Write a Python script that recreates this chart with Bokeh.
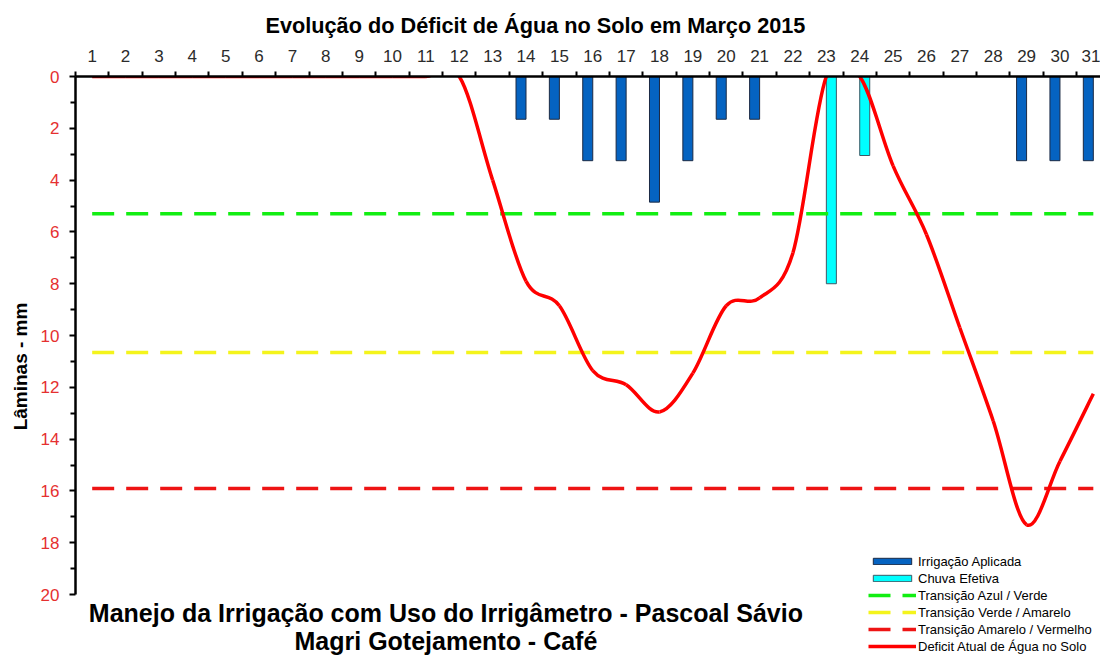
from bokeh.plotting import figure
from bokeh.models import Range1d, FixedTicker, Label, Legend, LegendItem, ColumnDataSource
from bokeh.embed import file_html
from bokeh.resources import INLINE

# ---------------- data ----------------
days = list(range(1, 32))
day_labels = [str(d) for d in days]
deficit = [0, 0, 0, 0, 0, 0, 0, 0, 0, 0, 0,
           0, 4.0, 7.9, 8.85, 11.35, 11.9, 12.95, 11.45, 8.85, 8.55, 6.8,
           0, 0, 3.45, 6.1, 9.7, 13.3, 17.3, 14.85, 12.25]
irr_days = [14, 15, 16, 17, 18, 19, 20, 21, 29, 30, 31]
irr_vals = [1.65, 1.65, 3.25, 3.25, 4.85, 3.25, 1.65, 1.65, 3.25, 3.25, 3.25]
rain_days = [23, 24]
rain_vals = [8.0, 3.05]
thr_blue_green = 5.3
thr_green_yellow = 10.65
thr_yellow_red = 15.9
y_ticks = list(range(0, 21, 2))

FONT = "Liberation Sans"

# frame: left 75px, top 76px, extends to the bottom/right edge of the canvas
p = figure(width=1100, height=656, output_backend="svg", toolbar_location=None,
           x_range=Range1d(0.5, 31.215), y_range=Range1d(22.39, 0),
           x_axis_location="above", y_axis_location="left",
           min_border_left=75, min_border_right=0, min_border_top=76, min_border_bottom=0,
           outline_line_color=None, background_fill_color="white", border_fill_color="white")
p.grid.visible = False

# ---- title ----
p.title.text = "Evolução do Déficit de Água no Solo em Março 2015"
p.title.align = "left"
p.title.offset = 190
p.title.text_font = FONT
p.title.text_font_style = "bold"
p.title.text_font_size = "21.7px"
p.title.text_color = "black"
p.title.standoff = 17

# ---- axes ----
xa = p.xaxis[0]
xa.ticker = FixedTicker(ticks=days, minor_ticks=[d - 0.5 for d in days])
xa.major_label_overrides = {d: s for d, s in zip(days, day_labels)}
xa.major_tick_line_color = None
xa.major_tick_out = 0
xa.major_tick_in = 0
xa.minor_tick_out = 5
xa.minor_tick_in = 0
xa.minor_tick_line_color = "black"
xa.minor_tick_line_width = 2
xa.axis_line_color = "black"
xa.axis_line_width = 2.5
xa.major_label_standoff = 10
xa.major_label_text_font = FONT
xa.major_label_text_font_size = "17px"
xa.major_label_text_color = "#2b2b2b"

ya = p.yaxis[0]
ya.bounds = (0, 20)
ya.ticker = FixedTicker(ticks=y_ticks, minor_ticks=[t + 1 for t in y_ticks[:-1]])
ya.major_tick_out = 6
ya.major_tick_in = 0
ya.minor_tick_out = 5
ya.minor_tick_in = 0
ya.major_tick_line_width = 2
ya.minor_tick_line_width = 2
ya.axis_line_width = 2.5
ya.major_label_standoff = 10
ya.major_label_text_font = FONT
ya.major_label_text_font_size = "17px"
ya.major_label_text_color = "#e53030"
ya.axis_label = "Lâminas - mm"
ya.axis_label_text_font = FONT
ya.axis_label_text_font_style = "bold"
ya.axis_label_text_font_size = "19px"
ya.axis_label_text_color = "black"
ya.axis_label_standoff = 7

# ---- bars ----
src_irr = ColumnDataSource(dict(x=[d - 0.15 for d in irr_days], v=irr_vals))
src_rain = ColumnDataSource(dict(x=[d + 0.15 for d in rain_days], v=rain_vals))
r_irr = p.vbar(x="x", top=0, bottom="v", width=0.3, source=src_irr,
               fill_color="#0563C1", line_color="#1c2a44", line_width=1)
r_rain = p.vbar(x="x", top=0, bottom="v", width=0.3, source=src_rain,
                fill_color="#00FFFF", line_color="#3d5966", line_width=1)

# ---- threshold lines ----
x_span = [days[0], days[-1]]
r_g = p.line(x=x_span, y=[thr_blue_green] * 2, line_color="#12ee12", line_width=3.5, line_dash="22 12")
r_y = p.line(x=x_span, y=[thr_green_yellow] * 2, line_color="#f4f41c", line_width=3.5, line_dash="22 12")
r_r = p.line(x=x_span, y=[thr_yellow_red] * 2, line_color="#ee1414", line_width=3.5, line_dash="22 12")

# ---- smoothed deficit curve (bezier segments through data points) ----
n = len(days)
x0, y0, x1, y1, cx0, cy0, cx1, cy1 = [], [], [], [], [], [], [], []
for i in range(n - 1):
    ip = max(i - 1, 0)
    i2 = min(i + 2, n - 1)
    x0.append(days[i]); y0.append(deficit[i])
    x1.append(days[i + 1]); y1.append(deficit[i + 1])
    cx0.append(days[i] + (days[i + 1] - days[ip]) / 6)
    cy0.append(deficit[i] + (deficit[i + 1] - deficit[ip]) / 6)
    cx1.append(days[i + 1] - (days[i2] - days[i]) / 6)
    cy1.append(deficit[i + 1] - (deficit[i2] - deficit[i]) / 6)
src_b = ColumnDataSource(dict(x0=x0, y0=y0, x1=x1, y1=y1, cx0=cx0, cy0=cy0, cx1=cx1, cy1=cy1))
r_def = p.bezier(x0="x0", y0="y0", x1="x1", y1="y1", cx0="cx0", cy0="cy0", cx1="cx1", cy1="cy1",
                 source=src_b, line_color="#ff0000", line_width=3.5)

# ---- legend (inside the frame, bottom right) ----
legend = Legend(items=[
    LegendItem(label="Irrigação Aplicada", renderers=[r_irr]),
    LegendItem(label="Chuva Efetiva", renderers=[r_rain]),
    LegendItem(label="Transição Azul / Verde", renderers=[r_g]),
    LegendItem(label="Transição Verde / Amarelo", renderers=[r_y]),
    LegendItem(label="Transição Amarelo / Vermelho", renderers=[r_r]),
    LegendItem(label="Deficit Atual de Água no Solo", renderers=[r_def]),
], location=(793, 2), padding=0, margin=0, spacing=1,
    glyph_width=48, glyph_height=8, label_height=16, label_standoff=2,
    label_text_font=FONT, label_text_font_size="13px", label_text_color="black",
    border_line_color=None, background_fill_color="white", background_fill_alpha=1)
p.add_layout(legend, "center")

# ---- caption below the axis (data units: x = day, y = mm) ----
p.add_layout(Label(x=11.6, y=20.73,
                   text="Manejo da Irrigação com Uso do Irrigâmetro - Pascoal Sávio",
                   text_align="center", text_baseline="alphabetic",
                   text_font=FONT, text_font_style="bold", text_font_size="25px", text_color="black"))
p.add_layout(Label(x=11.6, y=21.78,
                   text="Magri Gotejamento - Café",
                   text_align="center", text_baseline="alphabetic",
                   text_font=FONT, text_font_style="bold", text_font_size="25px", text_color="black"))

open("out.html", "w").write(file_html(p, INLINE))
